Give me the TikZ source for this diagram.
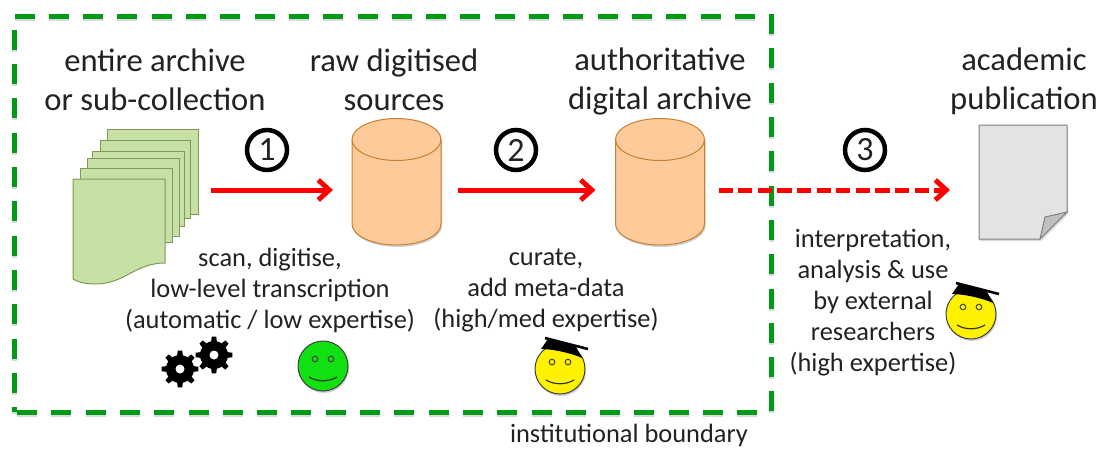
\documentclass[tikz,border=0pt]{standalone}
\usepackage{fontspec}
\setmainfont{Carlito}
\usetikzlibrary{arrows.meta,shadows}
\definecolor{sheetfill}{HTML}{C6E0A6}
\definecolor{sheetline}{HTML}{7E9A55}
\definecolor{cylfill}{HTML}{FDCB9A}
\definecolor{cylline}{HTML}{C97F30}
\definecolor{boxgreen}{HTML}{009A17}
\definecolor{facegreen}{HTML}{11E011}
\definecolor{txt}{HTML}{222222}
\tikzset{
  x=1pt,y=-1pt,
  softshadow/.style={drop shadow={shadow xshift=1pt,shadow yshift=-2pt,opacity=.18,fill=black}},
  big/.style={font=\fontsize{32.6}{39}\selectfont,align=center,text=txt,inner sep=0pt},
  small/.style={font=\fontsize{26.4}{31}\selectfont,align=center,text=txt,inner sep=0pt},
  sheet/.style={draw=sheetline,fill=sheetfill,line width=1pt},
  flow/.style={draw=red,line width=5pt,-{Straight Barb[length=11pt,width=20pt,line width=5pt]}},
  num/.style={circle,draw=black,fill=white,line width=4.5pt,minimum size=40pt,inner sep=0pt,
    font=\fontsize{34}{34}\selectfont,text=txt},
  holder/.style={inner sep=0pt,outer sep=0pt},
  face/.style={circle,draw=black!75,line width=1pt,minimum size=50pt,inner sep=0pt,softshadow},
  pics/drum/.style={code={
    \draw[draw=cylline,fill=cylfill,line width=1pt,softshadow]
      (-44.5,-42.5) -- (-44.5,42) .. controls (-44.5,53.6) and (-24.6,63) .. (0,63)
      .. controls (24.6,63) and (44.5,53.6) .. (44.5,42) -- (44.5,-42.5)
      .. controls (44.5,-54.1) and (24.6,-63.5) .. (0,-63.5)
      .. controls (-24.6,-63.5) and (-44.5,-54.1) .. (-44.5,-42.5) -- cycle;
    \draw[draw=cylline,line width=1pt]
      (-44.5,-42.5) .. controls (-44.5,-30.9) and (-24.6,-21.5) .. (0,-21.5)
      .. controls (24.6,-21.5) and (44.5,-30.9) .. (44.5,-42.5);
  }},
  pics/features/.style={code={
    \draw[line width=1.1pt,draw=black!70] (-8,-7) circle (2.8) (8,-7) circle (2.8);
    \draw[line width=1.2pt,draw=black!80] (-14,11) .. controls (-6,16) and (6,16) .. (14,11);
  }},
  pics/mortar/.style={code={
    \fill[black] (-12,-30) -- (15,-24) -- (22,-11) .. controls (14,-15) and (-6,-20) .. (-19,-20) -- cycle;
    \draw[black,line width=2.6pt] (-15,-31) -- (28,-20);
  }},
  pics/gear/.style={code={
    \fill[black] (0,0) circle (14);
    \foreach \a in {0,45,...,315}{
      \fill[black] (\a-15:12) -- (\a-7:18.5) -- (\a+7:18.5) -- (\a+15:12) -- cycle;
    }
    \fill[white] (0,0) circle (4.5);
  }}
}
\begin{document}
\begin{tikzpicture}
\useasboundingbox (0,0) rectangle (1100,448);
\fill[white] (0,0) rectangle (1100,448);

% boundary
\draw[black,opacity=.15,line width=5pt,dash pattern=on 20pt off 14.3pt,dash phase=31.3pt,shift={(0,2)}]
  (14,412) -- (771,412) -- (771,16) -- (14,16) -- cycle;
\draw[boxgreen,line width=5pt,dash pattern=on 20pt off 14.3pt,dash phase=31.3pt]
  (14,412) -- (771,412) -- (771,16) -- (14,16) -- cycle;

% anchors for the layout
\coordinate (flowrow) at (0,190);

% stack of sheets
\node[holder,minimum width=125pt,minimum height=154pt] (docs) at (135.5,206) {};
\draw[sheet] (107,129) rectangle (198,214);
\draw[sheet] (100,140) rectangle (190,218);
\draw[sheet] (92,151) rectangle (184,226);
\draw[sheet] (87,158) rectangle (179,236);
\draw[sheet] (80,168) rectangle (172,242);
\draw[sheet] (73,179) -- (165,179) -- (165,263) .. controls (135,263) and (125,284) .. (95,284) .. controls (85,284) and (78,282) .. (73,279) -- cycle;

% stores
\node[holder,minimum width=89pt,minimum height=126.5pt] (raw) at (396.5,182) {};
\path (raw.center) pic {drum};
\node[holder,minimum width=89pt,minimum height=126.5pt] (auth) at (660,182) {};
\path (auth.center) pic {drum};

% publication
\node[holder,minimum width=88pt,minimum height=114pt] (pub) at (1023,182) {};
\fill[black,opacity=.15] (980,127) -- (1068,127) -- (1068,214) -- (1041,241) -- (980,241) -- cycle;
\draw[draw=black!50,fill=black!11,line width=1pt] (979,125) -- (1067,125) -- (1067,212) -- (1040,239) -- (979,239) -- cycle;
\draw[draw=black!50,fill=black!25,line width=1pt] (1040,239) -- (1045,217) -- (1067,212) -- cycle;

% headings
\node[big] (h1) at (155,79.5) {entire archive\\or sub-collection};
\node[big] (h2) at (394,79.5) {raw digitised\\sources};
\node[big] (h3) at (660,81) {authoritative\\digital archive};
\node[big] (h4) at (1024,81) {academic\\publication};

% numbers
\node[num] (n1) at (267,150) {1};
\node[num] (n2) at (516,150) {2};
\node[num] (n3) at (865,150) {3};

% flows
\draw[flow,shorten <=13pt,shorten >=19pt] (docs.east |- flowrow) -- (raw.west |- flowrow);
\draw[flow,shorten <=17pt,shorten >=20pt] (raw.east |- flowrow) -- (auth.west |- flowrow);
\draw[flow,dash pattern=on 14.3pt off 5.3pt,shorten <=14pt,shorten >=29pt] (auth.east |- flowrow) -- (pub.west |- flowrow);

% captions
\node[small] (c1) at (270,290.5) {scan, digitise,\\low-level transcription\\(automatic / low expertise)};
\node[small] (c2) at (546,290.5) {curate,\\add meta-data\\(high/med expertise)};
\node[small] (c3) at (873,302.5) {interpretation,\\analysis \& use\\by external\hspace*{14pt}\\researchers\hspace*{14pt}\\(high expertise)};
\node[small] (c4) at (629,435) {institutional boundary};

% gears
\path (180,369) pic {gear};
\path (214,355) pic {gear};

% faces
\node[face,fill=facegreen] (f1) at (323,366) {};
\path (f1) pic {features};
\node[face,fill=yellow] (f2) at (560,369) {};
\path (f2) pic {features} pic {mortar};
\node[face,fill=yellow] (f3) at (971,314) {};
\path (f3) pic {features} pic {mortar};
\end{tikzpicture}
\end{document}
